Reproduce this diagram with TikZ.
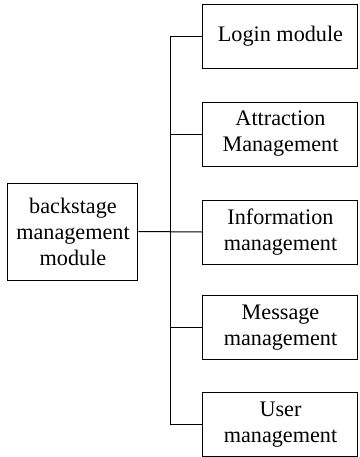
\documentclass[tikz,border=0pt]{standalone}
\usepackage{fontspec}
\setmainfont{Liberation Serif}
\begin{document}
\begin{tikzpicture}[x=0.5pt,y=-0.5pt,
    txt/.style={font=\fontsize{11.1}{13}\selectfont,align=center,inner sep=0pt},
    mainbox/.style={txt,draw,line width=0.5pt,minimum width=65pt,minimum height=48.5pt},
    modbox/.style={txt,draw,line width=0.5pt,minimum width=77.5pt,minimum height=32pt},
    link/.style={line width=0.5pt}]
    \useasboundingbox (0,0) rectangle (360,457);
    \node[mainbox] (backstage) at (73,231.5) {backstage\\management\\module};

    \node[modbox] (login) at (280.5,36) {Login module};
    \node[modbox] (attraction) at (280.5,134) {Attraction\\Management};
    \node[modbox] (information) at (280.5,232) {Information\\management};
    \node[modbox] (message) at (280.5,327.5) {Message\\management};
    \node[modbox] (user) at (280.5,424.5) {User\\management};

    \coordinate (bus) at (171,232);
    \draw[link] (backstage.east) -- (information.west);
    \draw[link] (bus |- login.west) -- (bus |- user.west);
    \draw[link] (bus |- login.west) -- (login.west);
    \draw[link] (bus |- attraction.west) -- (attraction.west);
    \draw[link] (bus |- message.west) -- (message.west);
    \draw[link] (bus |- user.west) -- (user.west);
\end{tikzpicture}
\end{document}
